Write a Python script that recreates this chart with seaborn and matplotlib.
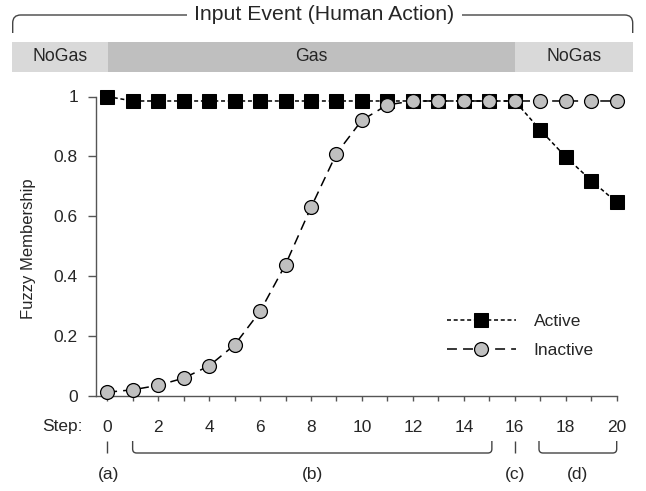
import matplotlib
matplotlib.use("Agg")
import matplotlib.pyplot as plt
import matplotlib.transforms as mtransforms
from matplotlib.path import Path
from matplotlib.patches import PathPatch, Rectangle
import seaborn as sns
import pandas as pd

# ---------------- data ----------------
steps = list(range(0, 21))
active = [1.0, 0.985, 0.985, 0.985, 0.985, 0.985, 0.985, 0.985, 0.985, 0.985,
          0.985, 0.985, 0.985, 0.985, 0.985, 0.985, 0.985, 0.888, 0.798, 0.719, 0.646]
inactive = [0.011, 0.019, 0.034, 0.058, 0.099, 0.169, 0.281, 0.438, 0.629, 0.809,
            0.921, 0.972, 0.985, 0.985, 0.985, 0.985, 0.985, 0.985, 0.985, 0.985, 0.985]
series_names = ["Active", "Inactive"]
y_ticks = [0, 0.2, 0.4, 0.6, 0.8, 1]
y_ticklabels = ["0", "0.2", "0.4", "0.6", "0.8", "1"]
phase_names = ["NoGas", "Gas", "NoGas"]
phase_edges = [-3.72, 0.05, 16.0, 20.65]
phase_colors = ["#d9d9d9", "#bfbfbf", "#d9d9d9"]
brace_labels = ["(a)", "(b)", "(c)", "(d)"]
brace_spans = [(0, 0), (1, 15.1), (16, 16), (16.95, 20)]
title_text = "Input Event (Human Action)"

df = pd.DataFrame({"Step": steps, "Active": active, "Inactive": inactive})

# ---------------- style ----------------
sns.set_style("ticks")
plt.rcParams["font.family"] = ["Liberation Sans", "DejaVu Sans"]

FS = 12.5
W, H = 646, 491
fig = plt.figure(figsize=(W / 100, H / 100), dpi=100)

def fx(px):
    return px / W

def fy(py):
    return 1 - py / H

ax_left, ax_right, ax_top, ax_bot = 95.7, 616.7, 96.5, 395.5
ax = fig.add_axes([fx(ax_left), fy(ax_bot), fx(ax_right - ax_left), (ax_bot - ax_top) / H])

axis_color = "#555555"

sns.lineplot(data=df, x="Step", y="Active", ax=ax, color="black", lw=1.1,
             linestyle=(0, (2.6, 1.8)), marker="s", markersize=9.7,
             markerfacecolor="black", markeredgecolor="black", clip_on=False,
             label=series_names[0], zorder=3)
sns.lineplot(data=df, x="Step", y="Inactive", ax=ax, color="black", lw=1.1,
             linestyle=(0, (6.5, 4)), marker="o", markersize=10,
             markerfacecolor="#c0c0c0", markeredgecolor="black", markeredgewidth=0.9,
             clip_on=False, label=series_names[1], zorder=4)

ax.set_xlim(-0.45, 20)
ax.set_ylim(0, 1)
ax.set_xlabel("")
ax.set_ylabel("")
ax.set_xticks(steps)
ax.set_xticklabels([str(s) if s % 2 == 0 else "" for s in steps])
ax.set_yticks(y_ticks)
ax.set_yticklabels(y_ticklabels)
ax.tick_params(axis="x", direction="out", length=3.6, width=1, color=axis_color,
               pad=14, labelsize=FS)
ax.tick_params(axis="y", direction="out", length=5.8, width=1, color=axis_color,
               pad=7, labelsize=FS)
for s in ["top", "right"]:
    ax.spines[s].set_visible(False)
for s in ["left", "bottom"]:
    ax.spines[s].set_color(axis_color)
    ax.spines[s].set_linewidth(1)

fig.text(fx(28.6), fy(249), "Fuzzy Membership", rotation=90, ha="center",
         va="center", fontsize=12.0)
fig.text(fx(82.7), fy(426.7), "Step:", ha="right", va="center", fontsize=FS)

leg = ax.legend(loc="center left", bbox_to_anchor=(fx(446.7), fy(336)),
                bbox_transform=fig.transFigure, frameon=False, fontsize=FS,
                handlelength=4.0, handletextpad=1.0, labelspacing=0.75,
                borderpad=0, borderaxespad=0)

# ---------------- top phase bars ----------------
blend = mtransforms.blended_transform_factory(ax.transData, fig.transFigure)
bar_top, bar_bot = 41.7, 71.7
for name, x0, x1, c in zip(phase_names, phase_edges[:-1], phase_edges[1:], phase_colors):
    r = Rectangle((x0, fy(bar_bot)), x1 - x0, (bar_bot - bar_top) / H,
                  transform=blend, facecolor=c, edgecolor="none", clip_on=False)
    fig.add_artist(r)
    t = fig.text(0, 0, name, transform=blend, fontsize=12.7, ha="center", va="center")
    t.set_position(((x0 + x1) / 2, fy((bar_top + bar_bot) / 2)))

# ---------------- top bracket ----------------
bl, br, bt, bb, rr = 12.7, 632.7, 15, 33, 8
gap_l, gap_r = 187, 462
bracket_color = "#444444"
pl = Path([(fx(bl), fy(bb)), (fx(bl), fy(bt + rr)), (fx(bl), fy(bt)), (fx(bl + rr), fy(bt)),
           (fx(gap_l), fy(bt))],
          [Path.MOVETO, Path.LINETO, Path.CURVE3, Path.CURVE3, Path.LINETO])
pr = Path([(fx(gap_r), fy(bt)), (fx(br - rr), fy(bt)), (fx(br), fy(bt)), (fx(br), fy(bt + rr)),
           (fx(br), fy(bb))],
          [Path.MOVETO, Path.LINETO, Path.CURVE3, Path.CURVE3, Path.LINETO])
for p in (pl, pr):
    fig.add_artist(PathPatch(p, transform=fig.transFigure, facecolor="none",
                             edgecolor=bracket_color, lw=1.0, clip_on=False))
fig.text(fx(324), fy(15), title_text, ha="center", va="center", fontsize=15.3)

# ---------------- bottom braces ----------------
yt, yb = 441, 453
rx = 4 / ((ax_right - ax_left) / 20.45)
for lab, (x0, x1) in zip(brace_labels, brace_spans):
    if x0 == x1:
        p = Path([(x0, fy(yt)), (x0, fy(yb))], [Path.MOVETO, Path.LINETO])
    else:
        p = Path([(x0, fy(yt)), (x0, fy(yb - 4)), (x0, fy(yb)), (x0 + rx, fy(yb)),
                  (x1 - rx, fy(yb)), (x1, fy(yb)), (x1, fy(yb - 4)), (x1, fy(yt))],
                 [Path.MOVETO, Path.LINETO, Path.CURVE3, Path.CURVE3,
                  Path.LINETO, Path.CURVE3, Path.CURVE3, Path.LINETO])
    fig.add_artist(PathPatch(p, transform=blend, facecolor="none",
                             edgecolor=bracket_color, lw=1.0, clip_on=False))
    t = fig.text(0, 0, lab, transform=blend, ha="center", va="center", fontsize=FS)
    t.set_position(((x0 + x1) / 2 + (0.05 if x0 == 0 else 0), fy(475)))

fig.savefig("out.png", dpi=100)
